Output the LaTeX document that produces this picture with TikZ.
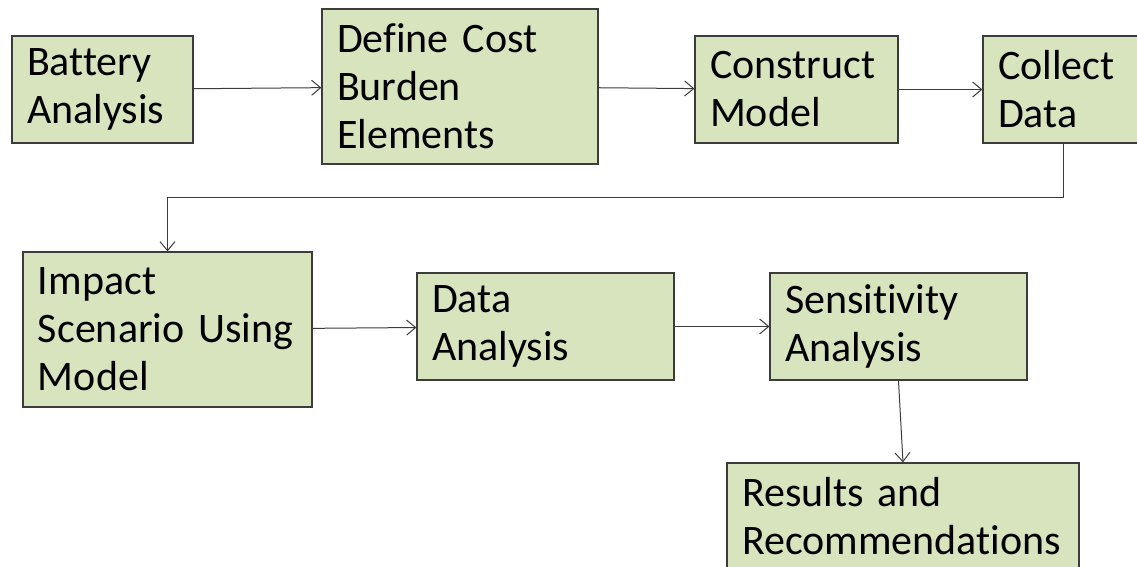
\documentclass[tikz,border=0pt]{standalone}
\usepackage{fontspec}
\setmainfont{Carlito}[Ligatures=NoCommon]
\usepackage{tikz}
\usetikzlibrary{arrows.meta}
\definecolor{boxgreen}{HTML}{D7E4BD}
\definecolor{edgegray}{HTML}{3C3C3C}

\begin{document}
\begin{tikzpicture}[x=0.5pt,y=-0.5pt,
    stagebox/.style={draw=edgegray,fill=boxgreen,line width=0.6pt,align=left,
        inner xsep=7.5pt,inner ysep=0pt,
        font=\fontsize{21pt}{24pt}\selectfont},
    flow/.style={draw=edgegray,line width=0.5pt,-{Straight Barb[length=4.5pt,width=7.5pt]}}]
\useasboundingbox (0,0) rectangle (1137,567);
\clip (0,0) rectangle (1137,567);

% Top row
\node[stagebox,text width=75.5pt,minimum height=53.5pt] (battery) at (102.5,89.5) {Battery\\Analysis};
\node[stagebox,text width=123pt,minimum height=77.5pt] (define) at (460,86.5) {Define Cost\\Burden\\Elements};
\node[stagebox,text width=86.5pt,minimum height=53.5pt] (construct) at (796.5,89.5) {Construct\\Model};
\node[stagebox,text width=65pt,minimum height=53.5pt] (collect) at (1063,89.5) {Collect\\Data};

% Bottom row
\node[stagebox,text width=129.5pt,minimum height=77.5pt] (impact) at (167.5,329.5) {Impact\\Scenario Using\\Model};
\node[stagebox,text width=113.5pt,minimum height=53.5pt] (data) at (545.5,326.5) {Data\\Analysis};
\node[stagebox,text width=113.5pt,minimum height=53.5pt] (sens) at (898.5,326.5) {Sensitivity\\Analysis};
\node[stagebox,text width=161pt,minimum height=53.5pt] (results) at (903,516.5) {Results and\\Recommendations};

% Connectors
\draw[flow] (battery) -- (define);
\draw[flow] (define) -- (construct);
\draw[flow] (construct) -- (collect);
\draw[flow] (collect.south) -- ++(0,54) -| (impact.north);
\draw[flow] (impact) -- (data);
\draw[flow] (data) -- (sens);
\draw[flow] (sens.south) -- (results.north);
\end{tikzpicture}
\end{document}
